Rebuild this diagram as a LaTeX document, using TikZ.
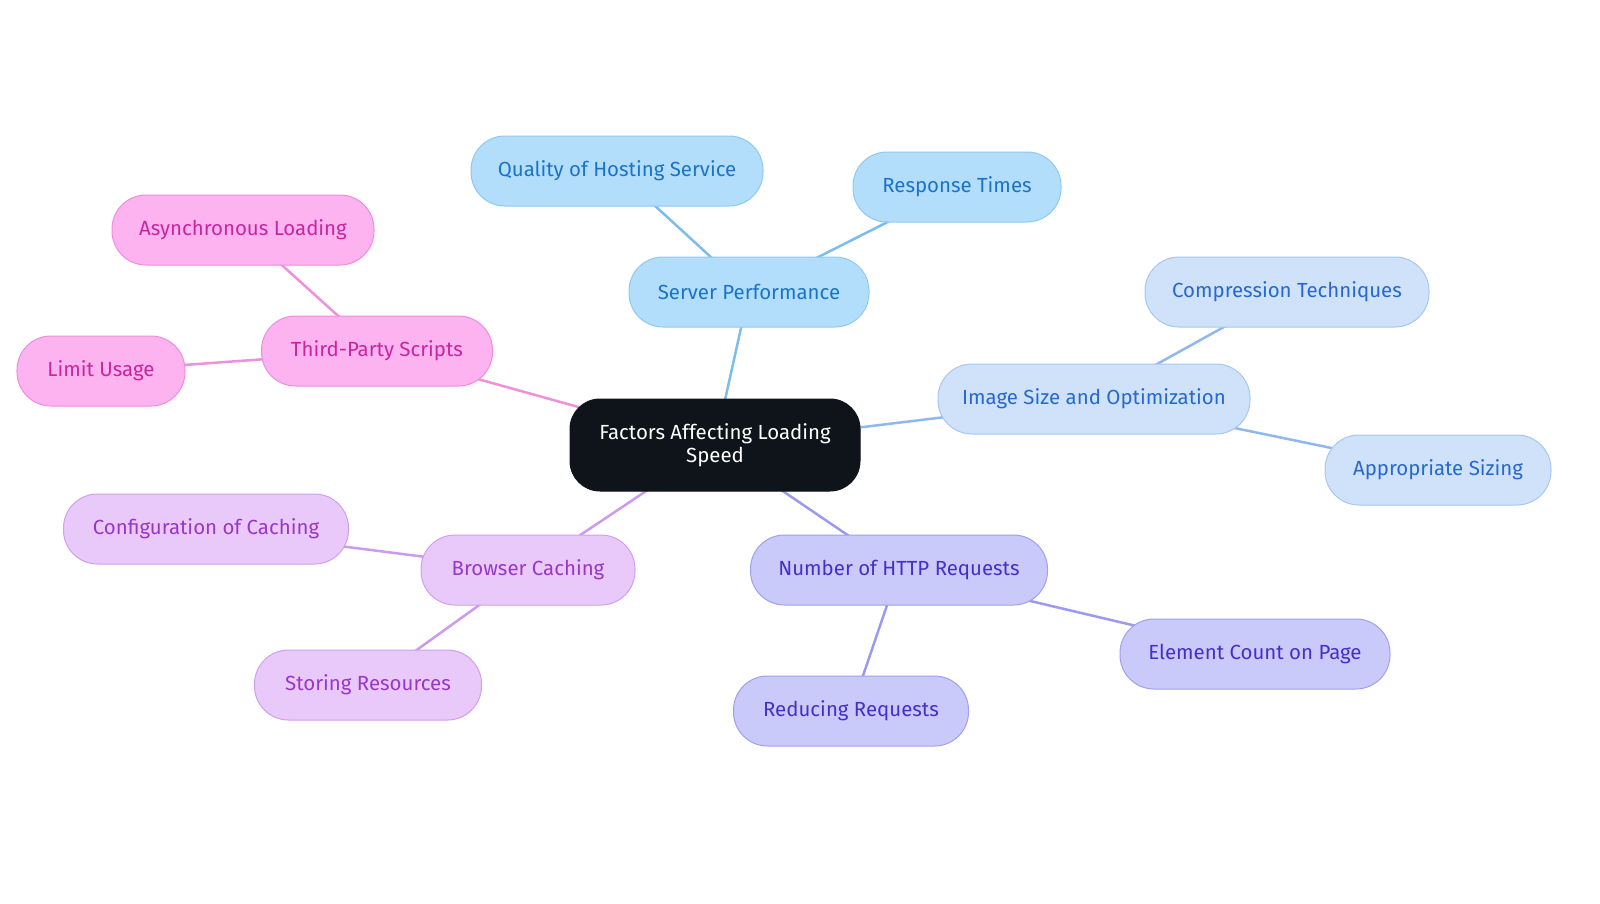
\documentclass[tikz,border=0pt]{standalone}
\usepackage{fontspec}
\setmainfont{Fira Sans}
\pgfdeclarelayer{bg}\pgfdeclarelayer{paper}\pgfsetlayers{paper,bg,main}
\definecolor{cfill}{HTML}{0F141A}
\definecolor{bF}{HTML}{B3DEFB}\definecolor{bD}{HTML}{90C8F4}\definecolor{bT}{HTML}{1A73C8}\definecolor{bL}{HTML}{7DBDEB}
\definecolor{iF}{HTML}{CFE2FA}\definecolor{iD}{HTML}{A6C8F2}\definecolor{iT}{HTML}{2468D0}\definecolor{iL}{HTML}{90B8EE}
\definecolor{hF}{HTML}{C9C9FA}\definecolor{hD}{HTML}{A0A0F0}\definecolor{hT}{HTML}{4430C8}\definecolor{hL}{HTML}{9A9AEE}
\definecolor{cF}{HTML}{E8C9FA}\definecolor{cD}{HTML}{D0A0F0}\definecolor{cT}{HTML}{9A36C8}\definecolor{cL}{HTML}{CC9AEE}
\definecolor{tF}{HTML}{FCB3F0}\definecolor{tD}{HTML}{F08CE0}\definecolor{tT}{HTML}{C8259E}\definecolor{tL}{HTML}{EE90DC}
\tikzset{
 n/.style={rounded corners=34bp,minimum height=70bp,inner xsep=10bp,font=\fontsize{20.5}{23}\selectfont,line width=1bp,align=center},
 sB/.style={n,fill=bF,draw=bD,text=bT},
 sI/.style={n,fill=iF,draw=iD,text=iT},
 sH/.style={n,fill=hF,draw=hD,text=hT},
 sC/.style={n,fill=cF,draw=cD,text=cT},
 sT/.style={n,fill=tF,draw=tD,text=tT},
 e/.style={line width=2.5bp}
}
\begin{document}
\begin{tikzpicture}[x=1bp,y=-1bp]
\begin{pgfonlayer}{paper}
\fill[white] (0,0) rectangle (1600,903);
\end{pgfonlayer}
\useasboundingbox (0,0) rectangle (1600,903);
\node[n,fill=cfill,draw=cfill,text=white,minimum width=290bp,minimum height=92bp,rounded corners=30bp] (c) at (715,445) {Factors Affecting Loading\\Speed};
\node[sB,minimum width=240bp] (sp) at (749,292) {Server Performance};
\node[sB,minimum width=292bp] (q) at (617,171) {Quality of Hosting Service};
\node[sB,minimum width=208bp] (r) at (957,187) {Response Times};
\node[sI,minimum width=312bp] (im) at (1094,399) {Image Size and Optimization};
\node[sI,minimum width=284bp] (ct) at (1287,292) {Compression Techniques};
\node[sI,minimum width=226bp] (as) at (1438,470) {Appropriate Sizing};
\node[sH,minimum width=297bp] (h) at (899,570) {Number of HTTP Requests};
\node[sH,minimum width=270bp] (ec) at (1255,654) {Element Count on Page};
\node[sH,minimum width=235bp] (rr) at (851,711) {Reducing Requests};
\node[sC,minimum width=214bp] (bc) at (528,570) {Browser Caching};
\node[sC,minimum width=285bp] (cc) at (206,529) {Configuration of Caching};
\node[sC,minimum width=227bp] (sr) at (368,685) {Storing Resources};
\node[sT,minimum width=231bp] (tp) at (377,351) {Third-Party Scripts};
\node[sT,minimum width=262bp] (al) at (243,230) {Asynchronous Loading};
\node[sT,minimum width=168bp] (lu) at (101,371) {Limit Usage};
\begin{pgfonlayer}{bg}
\draw[e,bL] (c.center)--(sp.center) (sp.center)--(q.center) (sp.center)--(r.center);
\draw[e,iL] (c.center)--(im.center) (im.center)--(ct.center) (im.center)--(as.center);
\draw[e,hL] (c.center)--(h.center) (h.center)--(ec.center) (h.center)--(rr.center);
\draw[e,cL] (c.center)--(bc.center) (bc.center)--(cc.center) (bc.center)--(sr.center);
\draw[e,tL] (c.center)--(tp.center) (tp.center)--(al.center) (tp.center)--(lu.center);
\end{pgfonlayer}
\end{tikzpicture}
\end{document}
